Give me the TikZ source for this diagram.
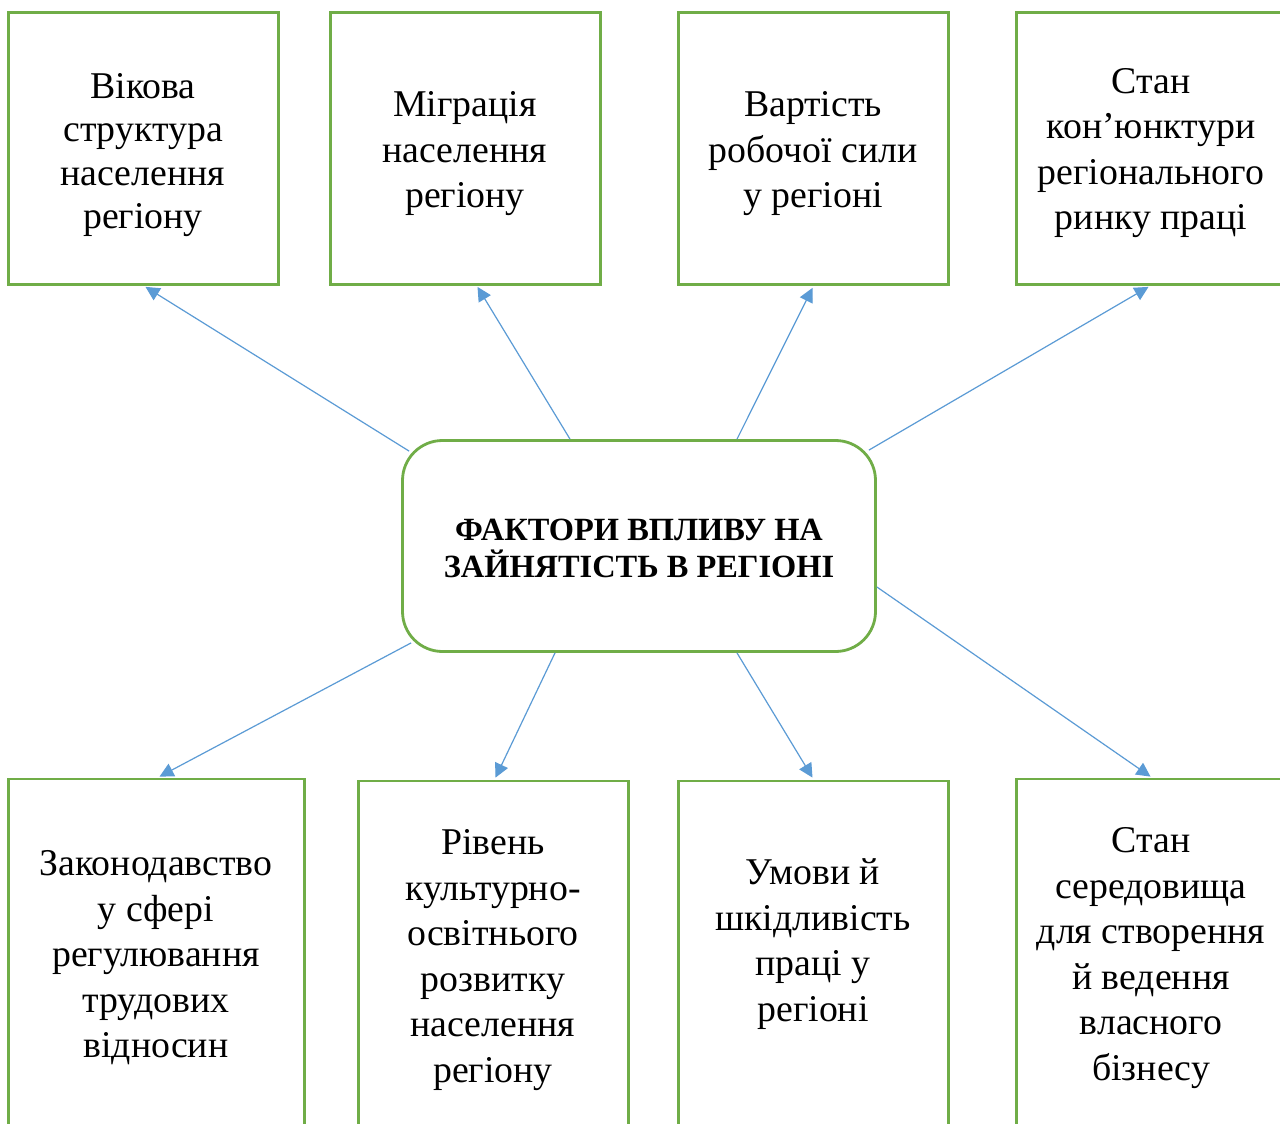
\documentclass[tikz,border=0pt]{standalone}
\usepackage{fontspec}
\setmainfont{Liberation Serif}
\usetikzlibrary{arrows.meta,calc}
\definecolor{boxgreen}{HTML}{70AD47}
\definecolor{arrblue}{HTML}{5B9BD5}
\begin{document}
\begin{tikzpicture}[x=1pt,y=-1pt,
  box/.style={draw=boxgreen,line width=2.8pt,fill=white,inner sep=0pt},
  lbl/.style={align=center,font=\fontsize{37.8}{45.5}\selectfont,inner sep=0pt},
  conn/.style={draw=arrblue,line width=1.2pt,-{Triangle[length=14pt,width=14pt]}}]
\clip (0,0) rectangle (1280,1124);
\fill[white] (0,0) rectangle (1280,1124);
% top boxes
\node[box,minimum width=270pt,minimum height=272pt] (b1) at (143.5,148.5) {};
\node[box,minimum width=270pt,minimum height=272pt] (b2) at (465.5,148.5) {};
\node[box,minimum width=270pt,minimum height=272pt] (b3) at (813.5,148.5) {};
\node[box,minimum width=270pt,minimum height=272pt] (b4) at (1151.5,148.5) {};
% bottom boxes
\node[box,minimum width=296pt,minimum height=400pt] (b5) at (156.5,979) {};
\node[box,minimum width=270pt,minimum height=400pt] (b6) at (493.5,981) {};
\node[box,minimum width=270pt,minimum height=400pt] (b7) at (813.5,981) {};
\node[box,minimum width=270pt,minimum height=400pt] (b8) at (1151.5,979) {};
% center
\node[box,rounded corners=40pt,minimum width=473pt,minimum height=211pt] (c) at (639,546) {};
% labels
\node[lbl,font=\fontsize{37.8}{43.4}\selectfont] (t1) at (143,155) {Вікова\\структура\\населення\\регіону};
\node[lbl] (t2) at (465,154) {Міграція\\населення\\регіону};
\node[lbl] (t3) at (813,154) {Вартість\\робочої сили\\у регіоні};
\node[lbl] (t4) at (1151,153) {Стан\\кон’юнктури\\регіонального\\ринку праці};
\node[lbl] (t5) at (156,958) {Законодавство\\у сфері\\регулювання\\трудових\\відносин};
\node[lbl] (t6) at (493,960) {Рівень\\культурно-\\освітнього\\розвитку\\населення\\регіону};
\node[lbl] (t7) at (813,944) {Умови й\\шкідливість\\праці у\\регіоні};
\node[lbl] (t8) at (1151,958) {Стан\\середовища\\для створення\\й ведення\\власного\\бізнесу};
\node[align=center,inner sep=0pt,font=\bfseries\fontsize{32.4}{37}\selectfont] (tc) at (639,548) {ФАКТОРИ ВПЛИВУ НА\\ЗАЙНЯТІСТЬ В РЕГІОНІ};
% start coordinates
\coordinate (s1) at ($(c.north west)+(8,12)$);
\coordinate (s2) at ($(c.north)+(-69,0)$);
\coordinate (s3) at ($(c.north)+(98,0)$);
\coordinate (s4) at ($(c.north east)+(-8,11)$);
\coordinate (s5) at ($(c.south west)+(10,-10)$);
\coordinate (s6) at ($(c.south)+(-84,0)$);
\coordinate (s7) at ($(c.south)+(98,0)$);
\coordinate (s8) at ($(c.east)+(0,41)$);
% arrows
\draw[conn] (s1) -- ($(b1.south)+(2,1)$);
\draw[conn] (s2) -- ($(b2.south)+(12,1)$);
\draw[conn] (s3) -- ($(b3.south)+(-1,2)$);
\draw[conn] (s4) -- ($(b4.south)+(-3,1)$);
\draw[conn] (s5) -- ($(b5.north)+(3,-1)$);
\draw[conn] (s6) -- ($(b6.north)+(2,-2)$);
\draw[conn] (s7) -- ($(b7.north)+(-1,-2)$);
\draw[conn] (s8) -- ($(b8.north)+(-1,-1)$);
\end{tikzpicture}
\end{document}
